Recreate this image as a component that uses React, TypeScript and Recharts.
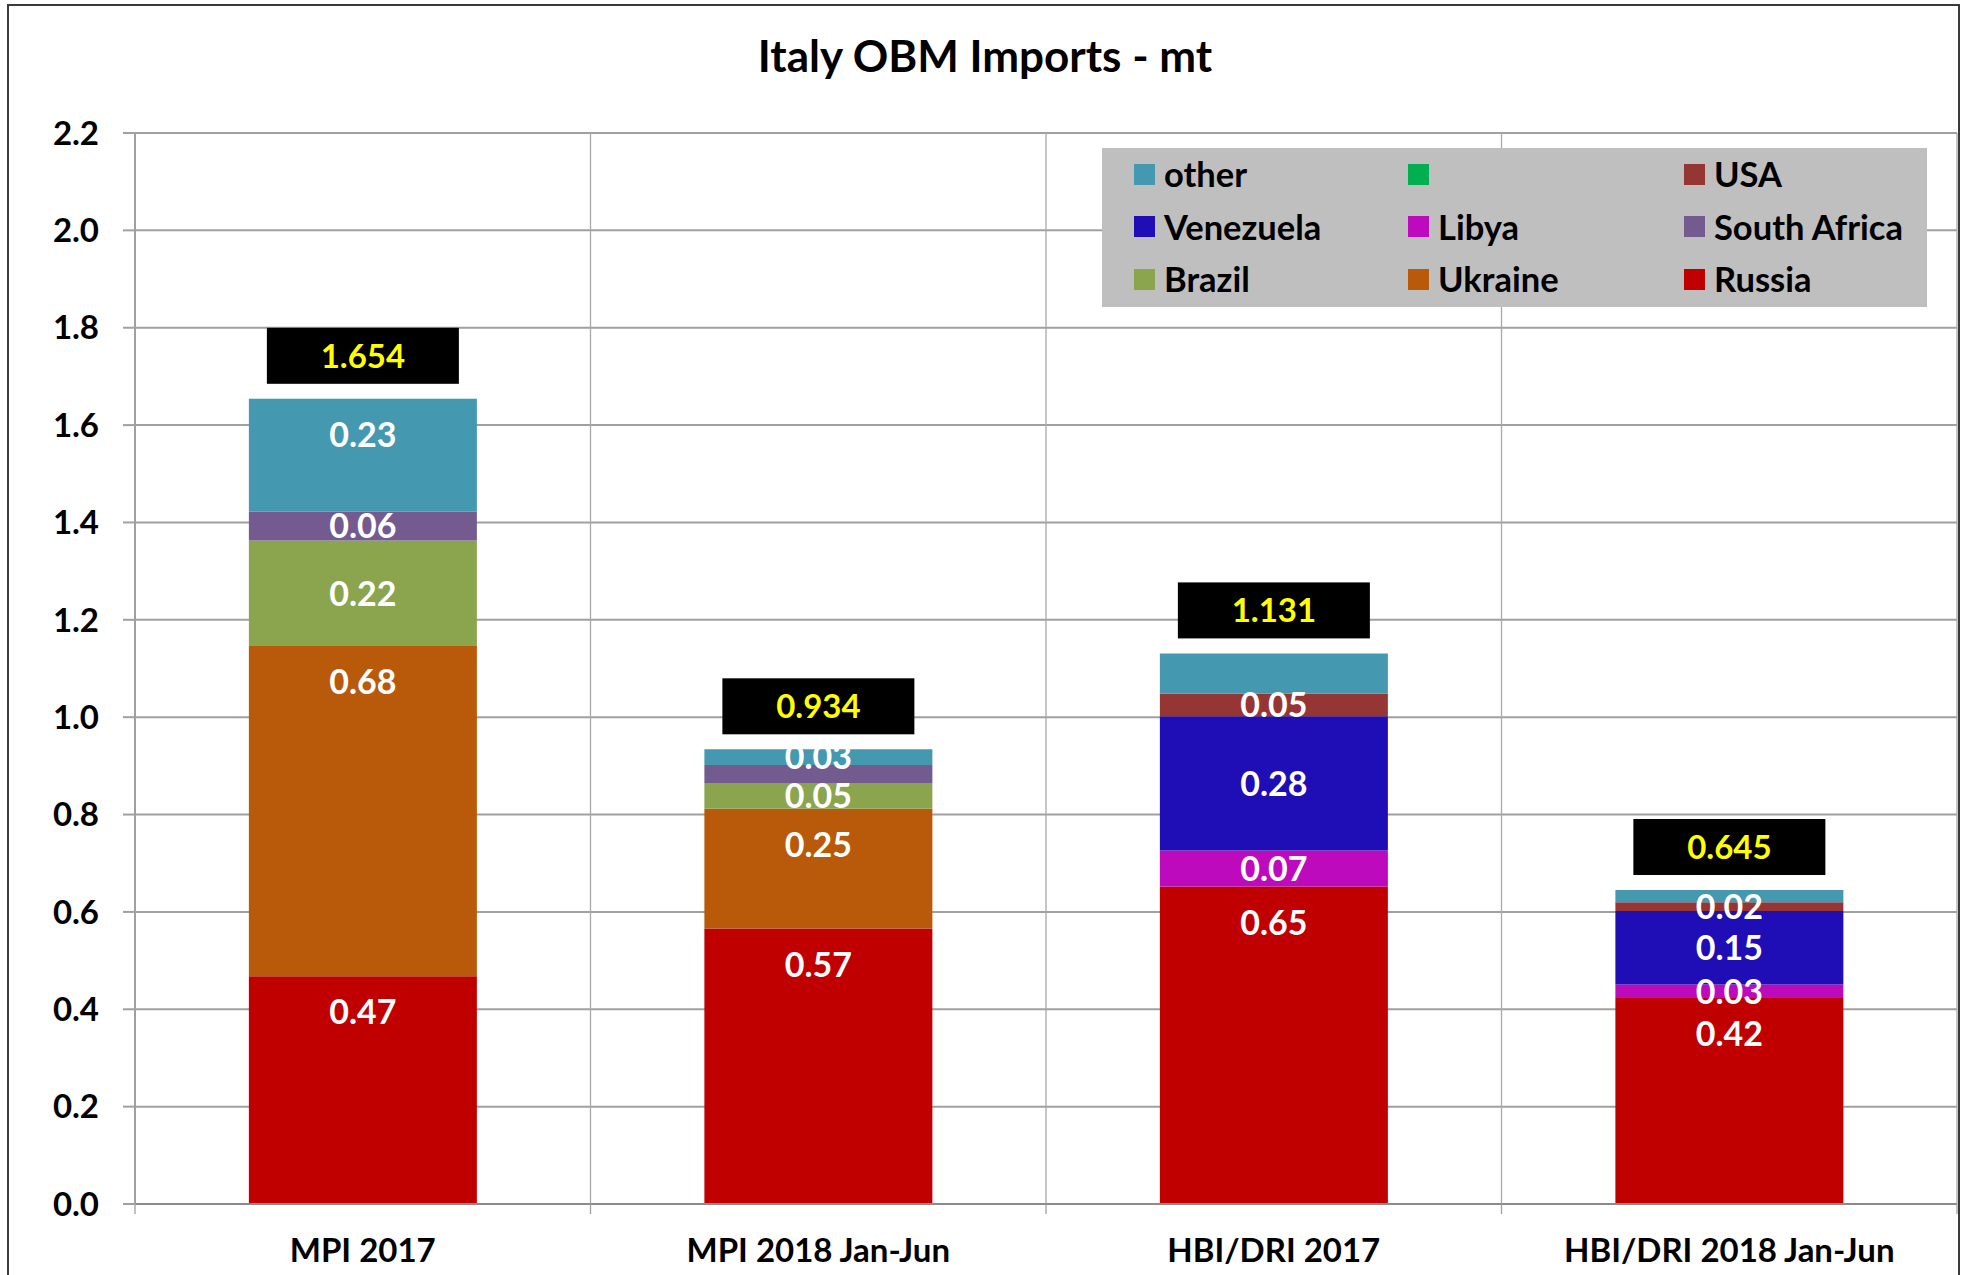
import React from 'react';
import { BarChart, Bar, XAxis, YAxis, CartesianGrid, Legend, LabelList } from 'recharts';

// Italy OBM imports, million tonnes, stacked by origin country
const categories = ['MPI 2017', 'MPI 2018 Jan-Jun', 'HBI/DRI 2017', 'HBI/DRI 2018 Jan-Jun'];
const russia = [0.468, 0.566, 0.652, 0.423];
const ukraine = [0.678, 0.246, 0, 0];
const brazil = [0.217, 0.053, 0, 0];
const southAfrica = [0.059, 0.037, 0, 0];
const libya = [0, 0, 0.074, 0.028];
const venezuela = [0, 0, 0.276, 0.151];
const usa = [0, 0, 0.046, 0.018];
const unnamed = [0, 0, 0, 0];
const other = [0.232, 0.032, 0.083, 0.025];
const totals = [1.654, 0.934, 1.131, 0.645];

const yTicks = [0, 0.2, 0.4, 0.6, 0.8, 1.0, 1.2, 1.4, 1.6, 1.8, 2.0, 2.2];

// labels that were deleted in the original chart
const hiddenLabels: Record<string, string[]> = {
  southAfrica: ['MPI 2018 Jan-Jun'],
  other: ['HBI/DRI 2017', 'HBI/DRI 2018 Jan-Jun'],
};

const series = [
  { key: 'russia', name: 'Russia', color: '#C00000', labelAt: 'end', values: russia },
  { key: 'ukraine', name: 'Ukraine', color: '#B9590A', labelAt: 'end', values: ukraine },
  { key: 'brazil', name: 'Brazil', color: '#8AA54E', labelAt: 'center', values: brazil },
  { key: 'southAfrica', name: 'South Africa', color: '#735A8F', labelAt: 'center', values: southAfrica },
  { key: 'libya', name: 'Libya', color: '#BC0ABC', labelAt: 'center', values: libya },
  { key: 'venezuela', name: 'Venezuela', color: '#1F0DB5', labelAt: 'center', values: venezuela },
  { key: 'usa', name: 'USA', color: '#963634', labelAt: 'center', values: usa },
  { key: 'unnamed', name: '', color: '#00B050', labelAt: 'center', values: unnamed },
  { key: 'other', name: 'other', color: '#4499B0', labelAt: 'end', values: other },
];
const legendOrder = ['other', 'unnamed', 'usa', 'venezuela', 'libya', 'southAfrica', 'brazil', 'ukraine', 'russia'];

const data = categories.map((category, i) => {
  const row: Record<string, string | number> = { category, total: totals[i] };
  series.forEach((s) => {
    row[s.key] = s.values[i];
  });
  return row;
});

const FONT = 'Lato, "Open Sans", sans-serif';

function box(props: any) {
  const vb = props.viewBox && props.viewBox.width !== undefined ? props.viewBox : props;
  const top = Math.min(vb.y, vb.y + vb.height);
  return { x: vb.x, top, width: vb.width, h: Math.abs(vb.height) };
}

function rowOf(props: any) {
  return props.payload || (props.index !== undefined ? data[props.index] : undefined);
}

function segmentLabel(key: string, labelAt: string) {
  return (props: any) => {
    let v = props.value;
    if (Array.isArray(v)) v = v[1] - v[0];
    v = Number(v);
    if (!v) return null;
    const row = rowOf(props);
    if (row && (hiddenLabels[key] || []).includes(row.category as string)) return null;
    const { x, top, width, h } = box(props);
    const cy = labelAt === 'end' && h > 72 ? top + 36 : top + h / 2;
    return (
      <text x={x + width / 2} y={cy} dy="0.36em" textAnchor="middle" fill="#FFFFFF"
        fontSize={34} fontWeight={700} fontFamily={FONT}>
        {v.toFixed(2)}
      </text>
    );
  };
}

function totalLabel(props: any) {
  const row = rowOf(props);
  if (!row) return null;
  const { x, top, width } = box(props);
  const cx = x + width / 2;
  const bottom = top - 15;
  return (
    <g>
      <rect x={cx - 96} y={bottom - 56} width={192} height={56} fill="#000000" />
      <text x={cx} y={bottom - 28} dy="0.36em" textAnchor="middle" fill="#FFFF00"
        fontSize={33} fontWeight={700} fontFamily={FONT}>
        {Number(row.total).toFixed(3)}
      </text>
    </g>
  );
}

// category label plus Excel-style tick marks between categories
function CategoryTick(props: any) {
  const { x, y, payload, width, visibleTicksCount, index } = props;
  const half = width / visibleTicksCount / 2;
  const axisY = y - 35;
  return (
    <g>
      <line x1={x - half} x2={x - half} y1={axisY} y2={axisY + 10} stroke="#A0A0A0" strokeWidth={1.3} />
      {index === visibleTicksCount - 1 ? (
        <line x1={x + half} x2={x + half} y1={axisY} y2={axisY + 10} stroke="#A0A0A0" strokeWidth={1.3} />
      ) : null}
      <text x={x} y={y} dy="0.71em" textAnchor="middle" fill="#000" fontSize={33} fontWeight={700} fontFamily={FONT}>
        {payload.value}
      </text>
    </g>
  );
}

function renderLegend() {
  const items = legendOrder.map((k) => series.find((s) => s.key === k)!);
  return (
    <div style={{
      width: 825, height: 159, background: '#BFBFBF', boxSizing: 'border-box', paddingLeft: 32,
      display: 'grid', gridTemplateColumns: '274px 276px 1fr', gridTemplateRows: 'repeat(3, 52.5px)',
      fontFamily: FONT, fontWeight: 700, fontSize: 34.5, color: '#000', lineHeight: 1,
    }}>
      {items.map((s) => (
        <div key={s.key} style={{ display: 'flex', alignItems: 'center' }}>
          <span style={{ width: 21, height: 21, background: s.color, marginRight: 9, display: 'inline-block', flex: 'none' }} />
          <span style={{ whiteSpace: 'nowrap' }}>{s.name}</span>
        </div>
      ))}
    </div>
  );
}

export default function App() {
  return (
    <div style={{ position: 'absolute', left: 0, top: 0, width: 1962, height: 1275, overflow: 'hidden', background: '#fff' }}>
      <div style={{ position: 'absolute', left: 7, top: 4, width: 1949, height: 1400, border: '2px solid #3A3A3A' }} />
      <svg width={1962} height={110} style={{ position: 'absolute', left: 0, top: 0 }}>
        <text x={985} y={72} textAnchor="middle" fontSize={44} fontWeight={700} fontFamily={FONT} fill="#000">
          Italy OBM Imports - mt
        </text>
      </svg>
      <div style={{ position: 'absolute', left: 0, top: 0 }}>
        <BarChart width={1962} height={1275} data={data} barCategoryGap="25%"
          margin={{ top: 133, right: 5, left: 0, bottom: 0 }}>
          <CartesianGrid horizontal vertical={false} stroke="#A0A0A0" strokeWidth={2} />
          <CartesianGrid horizontal={false} vertical stroke="#A8A8A8" strokeWidth={1.3}
            verticalCoordinatesGenerator={({ offset }: any) =>
              categories.map((_, i) => offset.left + (offset.width * i) / categories.length).concat(offset.left + offset.width)} />
          <XAxis dataKey="category" height={71} tickLine={false}
            axisLine={{ stroke: '#8C8C8C', strokeWidth: 2 }}
            tickSize={0} tickMargin={35} interval={0} tick={<CategoryTick />} />
          <YAxis domain={[0, 2.2]} ticks={yTicks} width={135} tickSize={12} tickMargin={24}
            tickFormatter={(v: number) => v.toFixed(1)}
            axisLine={{ stroke: '#A0A0A0', strokeWidth: 2 }} tickLine={{ stroke: '#A0A0A0', strokeWidth: 2 }}
            tick={{ fill: '#000', fontSize: 33, fontWeight: 700, fontFamily: FONT }} />
          <Legend content={renderLegend} layout="horizontal" verticalAlign="middle" align="center"
            wrapperStyle={{ left: 1102, top: 148, width: 825, height: 159 }} />
          {series.map((s) => (
            <Bar key={s.key} dataKey={s.key} name={s.name} stackId="a" fill={s.color}
              isAnimationActive={false}>
              <LabelList dataKey={s.key} content={segmentLabel(s.key, s.labelAt)} />
              {s.key === 'other' ? <LabelList dataKey={s.key} content={totalLabel} /> : null}
            </Bar>
          ))}
        </BarChart>
      </div>
    </div>
  );
}
